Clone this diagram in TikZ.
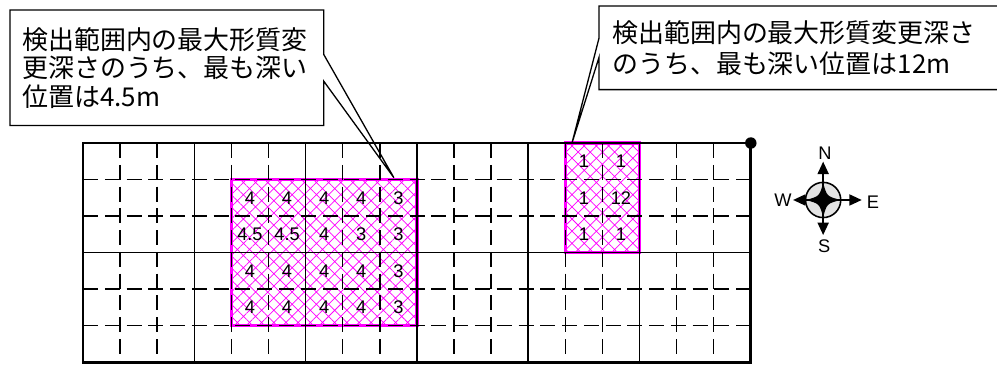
\documentclass[tikz,border=0pt]{standalone}
\usepackage{fontspec}
\setmainfont{Liberation Sans}
\newfontfamily\cjk{Noto Sans CJK JP}
\usetikzlibrary{arrows.meta,patterns.meta}
\definecolor{rosado}{RGB}{255,0,255}

\begin{document}
\begin{tikzpicture}[x=1cm,y=0.984cm,
    malla/.style={line width=1.1pt},
    mallatrazos/.style={line width=1.2pt,dash pattern=on 11.5pt off 5.2pt},
    marco/.style={line width=2.2pt},
    zona/.style={pattern={Hatch[angle=45,distance=6.6pt,line width=0.55pt]},pattern color=rosado},
    borde/.style={draw=rosado,line width=2.6pt},
    valor/.style={inner sep=0pt,font=\fontsize{14pt}{14pt}\selectfont},
    nota/.style={anchor=north west,fill=white,inner ysep=0pt,align=left},
    globo/.style={line width=1pt},
    flecha/.style={line width=1.2pt,-{Triangle[length=9.5pt,width=8.5pt]}},
    rumbo/.style={inner sep=0pt,font=\fontsize{14pt}{14pt}\selectfont}]

    \useasboundingbox (-2.237,-0.082) rectangle (24.636,9.918);

    % Zonas rayadas
    \fill[zona] (4,1) rectangle (9,5);
    \fill[zona] (13,3) rectangle (15,6);
    \draw[borde] (4,1) rectangle (9,5);
    \draw[borde] (13,3) rectangle (15,6);

    % Malla
    \foreach \x in {1,2,4,5,7,8,10,11,13,14,16,17}
        \draw[mallatrazos] (\x,6) -- (\x,0);
    \foreach \y in {1,2,4,5}
        \draw[mallatrazos] (0,\y) -- (18,\y);
    \foreach \x in {3,6,9,12,15}
        \draw[malla] (\x,0) -- (\x,6);
    \draw[malla] (0,3) -- (18,3);
    \draw[marco] (0,0) rectangle (18,6);
    \node[circle,fill,inner sep=0pt,minimum size=8.8pt] (esquina) at (18,6) {};

    % Valores
    \foreach \fila [count=\nf] in {{4,4,4,4,3},{4.5,4.5,4,3,3},{4,4,4,4,3},{4,4,4,4,3}}
        \foreach \v [count=\nc] in \fila
            \node[valor] (a\nf\nc) at (3.5+\nc,5.5-\nf) {\v};
    \foreach \fila [count=\nf] in {{1,1},{1,12},{1,1}}
        \foreach \v [count=\nc] in \fila
            \node[valor] (b\nf\nc) at (12.5+\nc,6.5-\nf) {\v};

    % Rosa de los vientos
    \node[circle,draw,line width=1.2pt,fill=gray!22,minimum size=27pt,inner sep=0pt]
        (rosa) at (19.95,4.44) {};
    \coordinate (pN) at (19.95,5.49);
    \coordinate (pS) at (19.95,3.48);
    \coordinate (pW) at (19.14,4.44);
    \coordinate (pE) at (20.99,4.44);
    \draw[flecha] (rosa.center) -- (pN);
    \draw[flecha] (rosa.center) -- (pS);
    \draw[flecha] (rosa.center) -- (pW);
    \draw[flecha] (rosa.center) -- (pE);
    \fill[shift={(rosa.center)}] (0.47,0) .. controls (0.1,0.1) .. (0,0.47)
        .. controls (-0.1,0.1) .. (-0.47,0) .. controls (-0.1,-0.1) .. (0,-0.47)
        .. controls (0.1,-0.1) .. cycle;
    \node[rumbo] (lN) at (20.0,5.73) {N};
    \node[rumbo] (lS) at (19.98,3.16) {S};
    \node[rumbo] (lW) at (18.87,4.42) {W};
    \node[rumbo] (lE) at (21.29,4.38) {E};

    % Notas
    \node[nota,text width=221.8pt,inner xsep=9.2pt,minimum height=88.2pt,
        font=\cjk\fontsize{19.9pt}{21.9pt}\selectfont] (nota1) at (-1.968,9.644)
        {検出範囲内の最大形質変\\更深さのうち、最も深い\\位置は4.5m};
    \coordinate (punta1) at (8.38,5.05);
    \draw[globo] (nota1.north west) -- (nota1.north east) -- ([yshift=0.36cm]nota1.east)
        -- (punta1) -- ([yshift=-0.36cm]nota1.east) -- (nota1.south east)
        -- (nota1.south west) -- cycle;

    \node[nota,text width=287.7pt,inner xsep=10pt,minimum height=63.7pt,
        font=\cjk\fontsize{19.9pt}{23.8pt}\selectfont] (nota2) at (13.908,9.753)
        {検出範囲内の最大形質変更深さ\\のうち、最も深い位置は12m};
    \coordinate (punta2) at (13.18,6.0);
    \draw[globo] (nota2.north east) -- (nota2.north west) -- ([yshift=0.26cm]nota2.west)
        -- (punta2) -- ([yshift=-0.26cm]nota2.west) -- (nota2.south west)
        -- (nota2.south east) -- cycle;

\end{tikzpicture}
\end{document}
